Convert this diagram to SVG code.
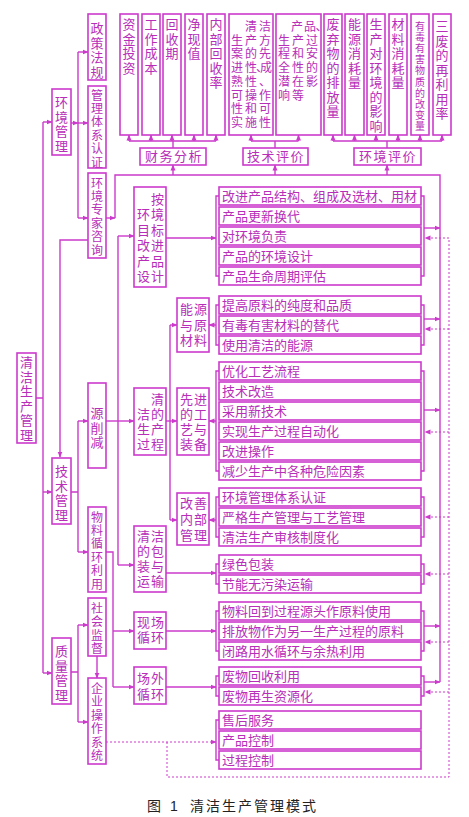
<svg xmlns="http://www.w3.org/2000/svg" width="469" height="817" viewBox="0 0 469 817">
<style>
.b{fill:#fff;stroke:#cc3acc;stroke-width:1.6}
.l{fill:none;stroke:#cc3acc;stroke-width:1.4}
.d{fill:none;stroke:#cc3acc;stroke-width:1;stroke-dasharray:2 2}
text{font-family:"Liberation Sans","Noto Sans CJK SC",sans-serif;font-size:13px;fill:#b82eb8}
.v{text-anchor:middle}
.s{font-size:12px}
.m{font-size:12px}
.cap{fill:#222;font-size:14px}
</style>
<defs>
<marker id="a" markerWidth="6" markerHeight="6" refX="5.5" refY="3" orient="auto" markerUnits="userSpaceOnUse"><path d="M0,0.5 L6,3 L0,5.5 z" fill="#cc3acc"/></marker>
</defs>

<g id="connectors">
<path class="l" d="M36 398 H43 M43 122 V673"/>
<path class="l" marker-end="url(#a)" d="M43 122 H52"/>
<path class="l" marker-end="url(#a)" d="M43 492 H52"/>
<path class="l" marker-end="url(#a)" d="M43 673 H52"/>
<path class="l" d="M78 52 V218"/>
<path class="l" marker-end="url(#a)" d="M71 123 H78"/>
<path class="l" marker-end="url(#a)" d="M78 52 H88"/>
<path class="l" marker-end="url(#a)" d="M78 123 H88"/>
<path class="l" marker-end="url(#a)" d="M78 218 H88"/>
<path class="l" marker-end="url(#a)" d="M88 240 H60 V457"/>
<path class="l" d="M71 492 H78 M78 421 V552"/>
<path class="l" marker-end="url(#a)" d="M78 421 H88"/>
<path class="l" marker-end="url(#a)" d="M78 552 H88"/>
<path class="l" d="M71 672 H78 M78 625 V722"/>
<path class="l" marker-end="url(#a)" d="M78 625 H88"/>
<path class="l" marker-end="url(#a)" d="M78 722 H88"/>
<path class="l" marker-end="url(#a)" d="M97 656 V678"/>
<path class="l" marker-end="url(#a)" d="M106 421 H134"/>
<path class="l" d="M118 236 V565"/>
<path class="l" marker-end="url(#a)" d="M118 236 H134"/>
<path class="l" marker-end="url(#a)" d="M118 565 H134"/>
<path class="l" d="M106 552 H113 V687"/>
<path class="l" marker-end="url(#a)" d="M113 631 H134"/>
<path class="l" marker-end="url(#a)" d="M113 687 H134"/>
<path class="l" marker-end="url(#a)" d="M166 421 H177"/>
<path class="l" d="M170 325 V520"/>
<path class="l" marker-end="url(#a)" d="M170 325 H177"/>
<path class="l" marker-end="url(#a)" d="M170 520 H177"/>
<path class="l" marker-end="url(#a)" d="M166 238 H216"/>
<path class="l" marker-end="url(#a)" d="M216 325 H209"/>
<path class="l" marker-end="url(#a)" d="M216 421 H209"/>
<path class="l" marker-end="url(#a)" d="M216 520 H209"/>
<path class="l" marker-end="url(#a)" d="M166 573 H216"/>
<path class="l" marker-end="url(#a)" d="M166 631 H216"/>
<path class="l" marker-end="url(#a)" d="M166 687 H216"/>
<path class="l" d="M219 196 H216 V276 H219 M219 305 H216 V345 H219 M219 371 H216 V471 H219 M219 497 H216 V537 H219 M219 564 H216 V584 H219 M219 611 H216 V651 H219 M219 676 H216 V696 H219 M219 720 H216 V760 H219"/>
<path class="l" d="M421 196 H424 V276 H421 M421 305 H424 V345 H421 M421 371 H424 V471 H421 M421 497 H424 V537 H421 M421 564 H424 V584 H421 M421 611 H424 V651 H421 M421 676 H424 V696 H421"/>
<path class="l" marker-end="url(#a)" d="M424 228 H440"/>
<path class="l" marker-end="url(#a)" d="M424 319 H440"/>
<path class="l" marker-end="url(#a)" d="M424 410 H440"/>
<path class="l" marker-end="url(#a)" d="M424 626 H440"/>
<path class="l" marker-end="url(#a)" d="M424 682 H440"/>
<path class="l" d="M115 218 V175 H440 V682"/>
<path class="l" marker-end="url(#a)" d="M106 218 H115"/>
<path class="l" marker-end="url(#a)" d="M173 175 V165"/>
<path class="l" marker-end="url(#a)" d="M275 175 V165"/>
<path class="l" marker-end="url(#a)" d="M387 175 V165"/>
<path class="l" d="M173 148 V141 M129 141 H216 M275 148 V141 M251 141 H298.5 M387 148 V141 M333 141 H442"/>
<path class="l" marker-end="url(#a)" d="M129 141 V135"/>
<path class="l" marker-end="url(#a)" d="M151 141 V135"/>
<path class="l" marker-end="url(#a)" d="M172 141 V135"/>
<path class="l" marker-end="url(#a)" d="M194 141 V135"/>
<path class="l" marker-end="url(#a)" d="M216 141 V135"/>
<path class="l" marker-end="url(#a)" d="M251 141 V135"/>
<path class="l" marker-end="url(#a)" d="M298.5 141 V135"/>
<path class="l" marker-end="url(#a)" d="M333 141 V135"/>
<path class="l" marker-end="url(#a)" d="M354.5 141 V135"/>
<path class="l" marker-end="url(#a)" d="M376 141 V135"/>
<path class="l" marker-end="url(#a)" d="M398 141 V135"/>
<path class="l" marker-end="url(#a)" d="M420 141 V135"/>
<path class="l" marker-end="url(#a)" d="M442 141 V135"/>
<path class="d" marker-end="url(#a)" d="M106 742 H216"/>
<path class="d" d="M167 742 V777 H449 V238"/>
<path class="d" marker-end="url(#a)" d="M449 238 H425"/>
<path class="d" marker-end="url(#a)" d="M449 329 H425"/>
<path class="d" marker-end="url(#a)" d="M449 432 H425"/>
<path class="d" marker-end="url(#a)" d="M449 517 H425"/>
<path class="d" marker-end="url(#a)" d="M449 574 H425"/>
<path class="d" marker-end="url(#a)" d="M449 642 H425"/>
<path class="d" marker-end="url(#a)" d="M449 692 H425"/>
</g>

<!-- left column -->
<g id="n_qjscgl"><rect class="b" x="17" y="353" width="19" height="90"/>
<text class="v"><tspan x="26.5" y="367">清</tspan><tspan x="26.5" y="381.5">洁</tspan><tspan x="26.5" y="396">生</tspan><tspan x="26.5" y="410.5">产</tspan><tspan x="26.5" y="425">管</tspan><tspan x="26.5" y="439.5">理</tspan></text></g>
<g id="n_hjgl"><rect class="b" x="52" y="89" width="19" height="66"/>
<text class="v"><tspan x="61.5" y="107">环</tspan><tspan x="61.5" y="121.5">境</tspan><tspan x="61.5" y="136">管</tspan><tspan x="61.5" y="150.5">理</tspan></text></g>
<g id="n_jsgl"><rect class="b" x="52" y="458" width="19" height="66"/>
<text class="v"><tspan x="61.5" y="476">技</tspan><tspan x="61.5" y="490.5">术</tspan><tspan x="61.5" y="505">管</tspan><tspan x="61.5" y="519.5">理</tspan></text></g>
<g id="n_zlgl"><rect class="b" x="52" y="638" width="19" height="66"/>
<text class="v"><tspan x="61.5" y="656">质</tspan><tspan x="61.5" y="670.5">量</tspan><tspan x="61.5" y="685">管</tspan><tspan x="61.5" y="699.5">理</tspan></text></g>

<g id="n_zcfg"><rect class="b" x="88" y="14" width="18" height="66"/>
<text class="v"><tspan x="97" y="33">政</tspan><tspan x="97" y="47.5">策</tspan><tspan x="97" y="62">法</tspan><tspan x="97" y="76.5">规</tspan></text></g>
<g id="n_gltxrz"><rect class="b" x="88" y="86" width="18" height="82"/>
<text class="v s"><tspan x="97" y="99.5">管</tspan><tspan x="97" y="112.9">理</tspan><tspan x="97" y="126.3">体</tspan><tspan x="97" y="139.7">系</tspan><tspan x="97" y="153.1">认</tspan><tspan x="97" y="166.5">证</tspan></text></g>
<g id="n_hjzjzx"><rect class="b" x="88" y="173" width="18" height="85"/>
<text class="v s"><tspan x="97" y="187.5">环</tspan><tspan x="97" y="200.9">境</tspan><tspan x="97" y="214.3">专</tspan><tspan x="97" y="227.7">家</tspan><tspan x="97" y="241.1">咨</tspan><tspan x="97" y="254.5">询</tspan></text></g>
<g id="n_yxj"><rect class="b" x="88" y="383" width="18" height="85"/>
<text class="v"><tspan x="97" y="418">源</tspan><tspan x="97" y="432.5">削</tspan><tspan x="97" y="447">减</tspan></text></g>
<g id="n_wlxhly"><rect class="b" x="88" y="507" width="18" height="85"/>
<text class="v s"><tspan x="97" y="521.5">物</tspan><tspan x="97" y="534.9">料</tspan><tspan x="97" y="548.3">循</tspan><tspan x="97" y="561.7">环</tspan><tspan x="97" y="575.1">利</tspan><tspan x="97" y="588.5">用</tspan></text></g>
<g id="n_shjd"><rect class="b" x="88" y="598" width="18" height="58"/>
<text class="v s"><tspan x="97" y="613">社</tspan><tspan x="97" y="626.4">会</tspan><tspan x="97" y="639.8">监</tspan><tspan x="97" y="653.2">督</tspan></text></g>
<g id="n_qyczxt"><rect class="b" x="88" y="678" width="18" height="86"/>
<text class="v s"><tspan x="97" y="693">企</tspan><tspan x="97" y="706.4">业</tspan><tspan x="97" y="719.8">操</tspan><tspan x="97" y="733.2">作</tspan><tspan x="97" y="746.6">系</tspan><tspan x="97" y="760">统</tspan></text></g>

<!-- top metric boxes -->
<g id="n_zjtz"><rect class="b" x="120" y="14" width="18" height="121"/>
<text class="v"><tspan x="129" y="29">资</tspan><tspan x="129" y="43.5">金</tspan><tspan x="129" y="58">投</tspan><tspan x="129" y="72.5">资</tspan></text></g>
<g id="n_gzcb"><rect class="b" x="142" y="14" width="18" height="121"/>
<text class="v"><tspan x="151" y="29">工</tspan><tspan x="151" y="43.5">作</tspan><tspan x="151" y="58">成</tspan><tspan x="151" y="72.5">本</tspan></text></g>
<g id="n_hsq"><rect class="b" x="163" y="14" width="18" height="121"/>
<text class="v"><tspan x="172" y="29">回</tspan><tspan x="172" y="43.5">收</tspan><tspan x="172" y="58">期</tspan></text></g>
<g id="n_jxz"><rect class="b" x="185" y="14" width="18" height="121"/>
<text class="v"><tspan x="194" y="29">净</tspan><tspan x="194" y="43.5">现</tspan><tspan x="194" y="58">值</tspan></text></g>
<g id="n_nbhsl"><rect class="b" x="207" y="14" width="18" height="121"/>
<text class="v"><tspan x="216" y="29">内</tspan><tspan x="216" y="43.5">部</tspan><tspan x="216" y="58">回</tspan><tspan x="216" y="72.5">收</tspan><tspan x="216" y="87">率</tspan></text></g>
<g id="n_fa"><rect class="b" x="229" y="14" width="44" height="121"/>
<text class="m" letter-spacing="2"><tspan x="245" y="31">清洁</tspan><tspan x="231" y="44.7">生产方</tspan><tspan x="231" y="58.4">案的先</tspan><tspan x="231 245 256 260" y="72.1" letter-spacing="0">进性、成</tspan><tspan x="231" y="85.8">熟性、</tspan><tspan x="231" y="99.5">可操作</tspan><tspan x="231" y="113.2">性和可</tspan><tspan x="231" y="126.9">实施性</tspan></text></g>
<g id="n_cp"><rect class="b" x="276" y="14" width="45" height="121"/>
<text class="m" letter-spacing="2"><tspan x="291 304 315.5" y="31" letter-spacing="0">产品、</tspan><tspan x="278" y="44.7">生产过</tspan><tspan x="278" y="58.4">程和安</tspan><tspan x="278" y="72.1">全性的</tspan><tspan x="278" y="85.8">潜在影</tspan><tspan x="278" y="99.5">响等</tspan></text></g>
<g id="n_fqw"><rect class="b" x="324" y="14" width="18" height="121"/>
<text class="v"><tspan x="333" y="29">废</tspan><tspan x="333" y="43.5">弃</tspan><tspan x="333" y="58">物</tspan><tspan x="333" y="72.5">的</tspan><tspan x="333" y="87">排</tspan><tspan x="333" y="101.5">放</tspan><tspan x="333" y="116">量</tspan></text></g>
<g id="n_nyxhl"><rect class="b" x="345" y="14" width="19" height="121"/>
<text class="v"><tspan x="354.5" y="29">能</tspan><tspan x="354.5" y="43.5">源</tspan><tspan x="354.5" y="58">消</tspan><tspan x="354.5" y="72.5">耗</tspan><tspan x="354.5" y="87">量</tspan></text></g>
<g id="n_scdhj"><rect class="b" x="367" y="14" width="18" height="121"/>
<text class="v"><tspan x="376" y="29">生</tspan><tspan x="376" y="43.5">产</tspan><tspan x="376" y="58">对</tspan><tspan x="376" y="72.5">环</tspan><tspan x="376" y="87">境</tspan><tspan x="376" y="101.5">的</tspan><tspan x="376" y="116">影</tspan><tspan x="376" y="130.5">响</tspan></text></g>
<g id="n_clxhl"><rect class="b" x="389" y="14" width="18" height="121"/>
<text class="v"><tspan x="398" y="29">材</tspan><tspan x="398" y="43.5">料</tspan><tspan x="398" y="58">消</tspan><tspan x="398" y="72.5">耗</tspan><tspan x="398" y="87">量</tspan></text></g>
<g id="n_ydyh"><rect class="b" x="411" y="14" width="18" height="121"/>
<text class="v" style="font-size:10px"><tspan x="420" y="29.5">有</tspan><tspan x="420" y="40.7">毒</tspan><tspan x="420" y="51.9">有</tspan><tspan x="420" y="63.1">害</tspan><tspan x="420" y="74.3">物</tspan><tspan x="420" y="85.5">质</tspan><tspan x="420" y="96.7">的</tspan><tspan x="420" y="107.9">改</tspan><tspan x="420" y="119.1">变</tspan><tspan x="420" y="130.3">量</tspan></text></g>
<g id="n_sfzly"><rect class="b" x="433" y="14" width="18" height="121"/>
<text class="v"><tspan x="442" y="31">三</tspan><tspan x="442" y="45.5">废</tspan><tspan x="442" y="60">的</tspan><tspan x="442" y="74.5">再</tspan><tspan x="442" y="89">利</tspan><tspan x="442" y="103.5">用</tspan><tspan x="442" y="118">率</tspan></text></g>

<!-- evaluation boxes -->
<g id="n_cwfx"><rect class="b" x="140" y="148" width="66" height="17"/><text x="145" y="161" letter-spacing="1.5">财务分析</text></g>
<g id="n_jspj"><rect class="b" x="243" y="148" width="65" height="17"/><text x="247" y="161" letter-spacing="1.5">技术评价</text></g>
<g id="n_hjpj"><rect class="b" x="354" y="148" width="67" height="17"/><text x="359" y="161" letter-spacing="1.5">环境评价</text></g>

<!-- second column -->
<g id="n_ahjmb"><rect class="b" x="134" y="187" width="32" height="100"/>
<text letter-spacing="1"><tspan x="151" y="204">按</tspan><tspan x="137" y="219.4">环境</tspan><tspan x="137" y="234.8">目标</tspan><tspan x="137" y="250.2">改进</tspan><tspan x="137" y="265.6">产品</tspan><tspan x="137" y="281">设计</tspan></text></g>
<g id="n_qjdscgc"><rect class="b" x="134" y="388" width="32" height="67"/>
<text letter-spacing="1"><tspan x="151" y="404">清</tspan><tspan x="137" y="419">洁的</tspan><tspan x="137" y="434">生产</tspan><tspan x="137" y="449">过程</tspan></text></g>
<g id="n_bzys"><rect class="b" x="134" y="526" width="32" height="66"/>
<text letter-spacing="1"><tspan x="137" y="541">清洁</tspan><tspan x="137" y="556">的包</tspan><tspan x="137" y="571">装与</tspan><tspan x="137" y="586">运输</tspan></text></g>
<g id="n_xcxh"><rect class="b" x="134" y="612" width="32" height="37"/>
<text letter-spacing="1"><tspan x="137" y="627">现场</tspan><tspan x="137" y="642">循环</tspan></text></g>
<g id="n_cwxh"><rect class="b" x="134" y="667" width="32" height="37"/>
<text letter-spacing="1"><tspan x="137" y="683">场外</tspan><tspan x="137" y="699">循环</tspan></text></g>

<!-- third column -->
<g id="n_nyycl"><rect class="b" x="177" y="298" width="32" height="54"/>
<text letter-spacing="1"><tspan x="180" y="314">能源</tspan><tspan x="180" y="330">与原</tspan><tspan x="180" y="345">材料</tspan></text></g>
<g id="n_xjgy"><rect class="b" x="177" y="388" width="32" height="67"/>
<text letter-spacing="1"><tspan x="180" y="404">先进</tspan><tspan x="180" y="419">的工</tspan><tspan x="180" y="434">艺与</tspan><tspan x="180" y="449">装备</tspan></text></g>
<g id="n_gsnb"><rect class="b" x="177" y="493" width="32" height="52"/>
<text letter-spacing="1"><tspan x="180" y="508">改善</tspan><tspan x="180" y="524">内部</tspan><tspan x="180" y="540">管理</tspan></text></g>

<!-- detail groups -->
<g id="g1">
<rect class="b" x="219" y="187" width="202" height="18"/><text x="222" y="201">改进产品结构、组成及选材、用材</text>
<rect class="b" x="219" y="207" width="202" height="18"/><text x="222" y="221">产品更新换代</text>
<rect class="b" x="219" y="227" width="202" height="18"/><text x="222" y="241">对环境负责</text>
<rect class="b" x="219" y="247" width="202" height="18"/><text x="222" y="261">产品的环境设计</text>
<rect class="b" x="219" y="267" width="202" height="18"/><text x="222" y="281">产品生命周期评估</text>
</g>
<g id="g2">
<rect class="b" x="219" y="296" width="202" height="18"/><text x="222" y="310">提高原料的纯度和品质</text>
<rect class="b" x="219" y="316" width="202" height="18"/><text x="222" y="330">有毒有害材料的替代</text>
<rect class="b" x="219" y="336" width="202" height="18"/><text x="222" y="350">使用清洁的能源</text>
</g>
<g id="g3">
<rect class="b" x="219" y="362" width="202" height="18"/><text x="222" y="376">优化工艺流程</text>
<rect class="b" x="219" y="382" width="202" height="18"/><text x="222" y="396">技术改造</text>
<rect class="b" x="219" y="402" width="202" height="18"/><text x="222" y="416">采用新技术</text>
<rect class="b" x="219" y="422" width="202" height="18"/><text x="222" y="436">实现生产过程自动化</text>
<rect class="b" x="219" y="442" width="202" height="18"/><text x="222" y="456">改进操作</text>
<rect class="b" x="219" y="462" width="202" height="18"/><text x="222" y="476">减少生产中各种危险因素</text>
</g>
<g id="g4">
<rect class="b" x="219" y="488" width="202" height="18"/><text x="222" y="502">环境管理体系认证</text>
<rect class="b" x="219" y="508" width="202" height="18"/><text x="222" y="522">严格生产管理与工艺管理</text>
<rect class="b" x="219" y="528" width="202" height="18"/><text x="222" y="542">清洁生产审核制度化</text>
</g>
<g id="g5">
<rect class="b" x="219" y="555" width="202" height="18"/><text x="222" y="569">绿色包装</text>
<rect class="b" x="219" y="575" width="202" height="18"/><text x="222" y="589">节能无污染运输</text>
</g>
<g id="g6">
<rect class="b" x="219" y="602" width="202" height="18"/><text x="222" y="616">物料回到过程源头作原料使用</text>
<rect class="b" x="219" y="622" width="202" height="18"/><text x="222" y="636">排放物作为另一生产过程的原料</text>
<rect class="b" x="219" y="642" width="202" height="18"/><text x="222" y="656">闭路用水循环与余热利用</text>
</g>
<g id="g7">
<rect class="b" x="219" y="667" width="202" height="18"/><text x="222" y="681">废物回收利用</text>
<rect class="b" x="219" y="687" width="202" height="18"/><text x="222" y="701">废物再生资源化</text>
</g>
<g id="g8">
<rect class="b" x="219" y="711" width="202" height="18"/><text x="222" y="725">售后服务</text>
<rect class="b" x="219" y="731" width="202" height="18"/><text x="222" y="745">产品控制</text>
<rect class="b" x="219" y="751" width="202" height="18"/><text x="222" y="765">过程控制</text>
</g>

<g id="caption">
<text class="cap" x="147" y="811">图</text>
<text class="cap" x="170" y="811">1</text>
<text class="cap" x="190" y="811" letter-spacing="2">清洁生产管理模式</text>
</g>
</svg>
